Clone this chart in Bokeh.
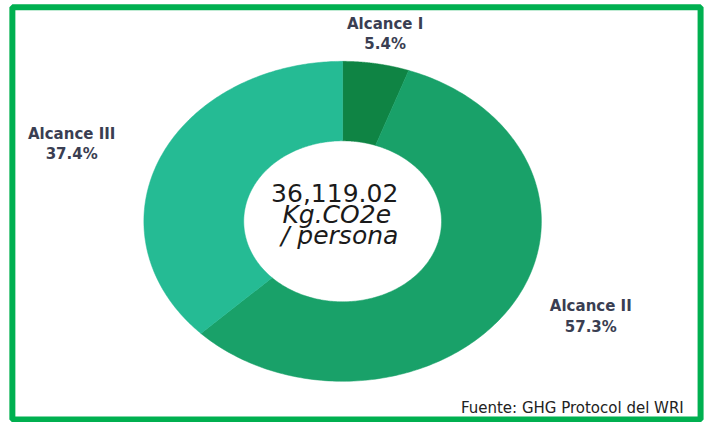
import numpy as np
from bokeh.plotting import figure
from bokeh.models import Range1d, ColumnDataSource
from bokeh.core.properties import value
from bokeh.embed import file_html
from bokeh.resources import INLINE

# ---- data ----
categories = ["Alcance I", "Alcance II", "Alcance III"]
percent = [5.4, 57.3, 37.4]
colors = ["#0f8444", "#19a169", "#25bb94"]
pct_labels = ["5.4%", "57.3%", "37.4%"]
center_lines = ["36,119.02", "Kg.CO2e", "/ persona"]
source_note = "Fuente: GHG Protocol del WRI"

# ---- layout (reference pixel coordinates) ----
W, H = 707, 422
p = figure(width=W, height=H, output_backend="svg", toolbar_location=None,
           x_range=Range1d(0, 715), y_range=Range1d(430, 0),
           min_border=0, outline_line_color=None)
p.axis.visible = False
p.grid.visible = False
p.background_fill_color = "white"
p.border_fill_color = "white"

cx, cy = 346, 225
rx_out, ry_out = 201, 163
rx_in, ry_in = 100, 82

vals = np.array(percent, dtype=float)
fr = vals / vals.sum()
ends = np.cumsum(fr) * 2 * np.pi
starts = ends - fr * 2 * np.pi

xs, ys = [], []
for s, e in zip(starts, ends):
    t = np.linspace(s, e, 200)
    xo = cx + rx_out * np.sin(t)
    yo = cy - ry_out * np.cos(t)
    xi = cx + rx_in * np.sin(t[::-1])
    yi = cy - ry_in * np.cos(t[::-1])
    xs.append(np.concatenate([xo, xi]).tolist())
    ys.append(np.concatenate([yo, yi]).tolist())

src = ColumnDataSource(dict(xs=xs, ys=ys, color=colors, cat=categories))
p.patches("xs", "ys", source=src, fill_color="color", line_color="color", line_width=0.5)

# category labels
lab_x = [389, 597, 72]
lab_y1 = [23.5, 311, 136.5]
lab_y2 = [44, 332.5, 156]
lab_font = dict(text_align="center", text_baseline="middle",
                text_font=value("DejaVu Sans"), text_font_style="bold",
                text_font_size="15px", text_color="#3a3e52")
p.text(x=lab_x, y=lab_y1, text=categories, **lab_font)
p.text(x=lab_x, y=lab_y2, text=pct_labels, **lab_font)

# center text
p.text(x=[338], y=[196.5], text=[center_lines[0]], text_align="center", text_baseline="middle",
       text_font=value("DejaVu Sans"), text_font_size="25px", text_color="#1a1a1a")
p.text(x=[340, 343], y=[218, 239], text=center_lines[1:], text_align="center",
       text_baseline="middle", text_font=value("DejaVu Sans"), text_font_style="italic",
       text_font_size="25px", text_color="#1a1a1a")

# source note
p.text(x=[691], y=[415], text=[source_note], text_align="right", text_baseline="middle",
       text_font=value("DejaVu Sans"), text_font_size="15px", text_color="#222222")

# green frame
p.quad(left=[12], right=[708], top=[7], bottom=[427], fill_color=None,
       line_color="#00b050", line_width=6)

open("out.html", "w").write(file_html(p, INLINE))
